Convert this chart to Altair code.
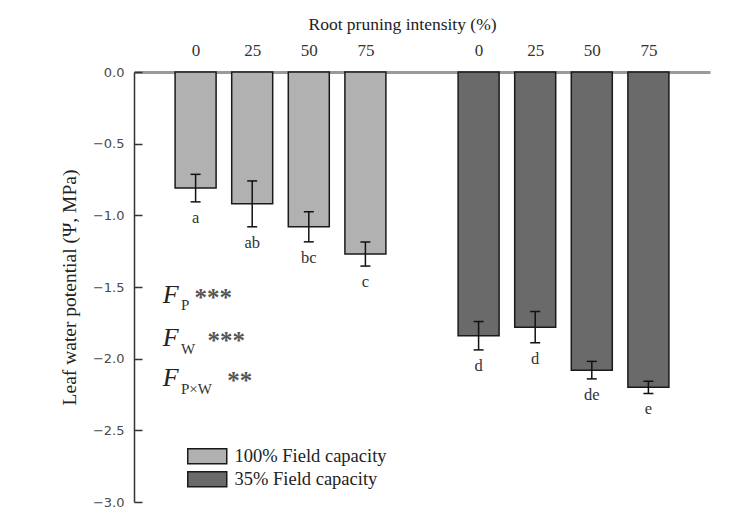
import altair as alt
import pandas as pd

# ---- data ----
capacity_levels = ["100% Field capacity", "35% Field capacity"]
pruning_levels = [0, 25, 50, 75]
capacity = ["100% Field capacity"] * 4 + ["35% Field capacity"] * 4
pruning = [0, 25, 50, 75, 0, 25, 50, 75]
potential = [-0.81, -0.92, -1.08, -1.27, -1.84, -1.78, -2.08, -2.20]
error = [0.096, 0.16, 0.105, 0.084, 0.099, 0.109, 0.061, 0.043]
letters = ["a", "ab", "bc", "c", "d", "d", "de", "e"]
y_ticks = [0.0, -0.5, -1.0, -1.5, -2.0, -2.5, -3.0]

# significance annotation (ANOVA factors)
stat_rows = [-1.615, -1.909, -2.188]
stat_subscripts = ["P", "W", "P×W"]
stat_stars = ["***", "***", "**"]

SERIF = "Liberation Serif"
SANS = "DejaVu Sans"
W, H = 576, 430

df = pd.DataFrame({
    "capacity": capacity,
    "pruning": pruning,
    "potential": potential,
    "error": error,
    "letter": letters,
})
df["slot"] = [capacity_levels.index(c) * 5 + pruning_levels.index(p) + 1
              for c, p in zip(capacity, pruning)]
df["lo"] = df["potential"] - df["error"]
df["hi"] = df["potential"] + df["error"]

x_scale = alt.Scale(domain=[0, 10], nice=False, zero=False)
y_scale = alt.Scale(domain=[-3, 0], nice=False, zero=False)

x_axis = alt.Axis(
    orient="top", values=[1, 2, 3, 4, 6, 7, 8, 9],
    labelExpr="((datum.value % 5) - 1) * 25",
    title="Root pruning intensity (%)", titleFont=SERIF, titleFontSize=17.5,
    titleFontWeight="normal", titleColor="#222", titleX=268, titleY=-43,
    titleAlign="center", titleBaseline="alphabetic",
    labelFont=SERIF, labelFontSize=17, labelColor="#333", labelPadding=13,
    labelAngle=0, ticks=False, tickSize=0, domainColor="#9a9a9a",
    domainWidth=3, grid=False,
)
y_axis = alt.Axis(
    orient="left", values=y_ticks, format=".1f",
    labelFont=SANS, labelFontSize=13, labelColor="#4a4a4a", labelPadding=10,
    ticks=False, tickSize=0, domainColor="#333", domainWidth=1.5,
    title="Leaf water potential (Ψ, MPa)", titleFont=SERIF, titleFontSize=19.5,
    titleFontWeight="normal", titleColor="#222", titleAngle=-90,
    titleX=-65, titleY=H / 2, titleAlign="center", titleBaseline="middle",
    grid=False,
)
tick_axis = alt.Axis(
    orient="right", offset=-W, values=y_ticks, labels=False, domain=False,
    ticks=True, tickSize=8, tickColor="#333", tickWidth=1.5, title=None,
    grid=False,
)

base = alt.Chart(df)

bars = base.mark_bar(size=41, stroke="#1a1a1a", strokeWidth=1.5).encode(
    x=alt.X("slot:Q", scale=x_scale, axis=x_axis),
    y=alt.Y("potential:Q", scale=y_scale, axis=y_axis),
    y2=alt.Y2(datum=0),
    color=alt.Color(
        "capacity:N",
        scale=alt.Scale(domain=capacity_levels, range=["#b1b1b1", "#6a6a6a"]),
        legend=alt.Legend(
            orient="none", legendX=64, legendY=375, title=None,
            direction="vertical", symbolType="M-2.6,-1H2.6V1H-2.6Z",
            symbolSize=225, symbolStrokeColor="#1a1a1a", symbolStrokeWidth=1.5,
            symbolOpacity=1, labelFont=SERIF, labelFontSize=18.5,
            labelColor="#222", labelOffset=18, rowPadding=1, padding=0,
        ),
    ),
)

err_rule = base.mark_rule(color="#111", strokeWidth=1.5).encode(
    x=alt.X("slot:Q", scale=x_scale, axis=x_axis),
    y=alt.Y("lo:Q", scale=y_scale, axis=tick_axis),
    y2="hi:Q",
)
err_lo = base.mark_tick(orient="horizontal", size=10, thickness=1.5,
                        color="#111", opacity=1).encode(
    x=alt.X("slot:Q", scale=x_scale, axis=x_axis),
    y=alt.Y("lo:Q", scale=y_scale, axis=None),
)
err_hi = base.mark_tick(orient="horizontal", size=10, thickness=1.5,
                        color="#111", opacity=1).encode(
    x=alt.X("slot:Q", scale=x_scale, axis=x_axis),
    y=alt.Y("hi:Q", scale=y_scale, axis=None),
)
letter_text = base.mark_text(font=SERIF, fontSize=16.5, color="#333",
                             baseline="top", dy=8).encode(
    x=alt.X("slot:Q", scale=x_scale, axis=x_axis),
    y=alt.Y("lo:Q", scale=y_scale, axis=None),
    text="letter:N",
)

stat_df = pd.DataFrame({
    "row": stat_rows,
    "sub": stat_subscripts,
    "stars": stat_stars,
    "f": ["F"] * 3,
    "fx": [0.42] * 3,
    "subx": [0.74] * 3,
    "suby": [r - 0.045 for r in stat_rows[:1]] + [r - 0.06 for r in stat_rows[1:]],
    "starx": [0.98, 1.21, 1.56],
})
stat = alt.Chart(stat_df)
f_text = stat.mark_text(font=SERIF, fontSize=26, fontStyle="italic",
                        color="#222", align="left", baseline="alphabetic").encode(
    x=alt.X("fx:Q", scale=x_scale, axis=x_axis),
    y=alt.Y("row:Q", scale=y_scale, axis=None),
    text="f:N",
)
sub_text = stat.mark_text(font=SERIF, fontSize=15, color="#333",
                          align="left", baseline="alphabetic").encode(
    x=alt.X("subx:Q", scale=x_scale, axis=x_axis),
    y=alt.Y("suby:Q", scale=y_scale, axis=None),
    text="sub:N",
)
star_text = stat.mark_text(font=SERIF, fontSize=25, fontWeight="bold",
                           color="#555", align="left", baseline="alphabetic",
                           dy=3).encode(
    x=alt.X("starx:Q", scale=x_scale, axis=x_axis),
    y=alt.Y("row:Q", scale=y_scale, axis=None),
    text="stars:N",
)

chart = alt.layer(
    bars, err_rule, err_lo, err_hi, letter_text, f_text, sub_text, star_text
).resolve_axis(y="independent").properties(
    width=W, height=H,
    autosize=alt.AutoSizeParams(type="none"),
    padding={"left": 134, "top": 72, "right": 33, "bottom": 13},
    background="white",
).configure_view(stroke=None)

chart.save("out.html", embed_options={"renderer": "svg", "actions": False})
